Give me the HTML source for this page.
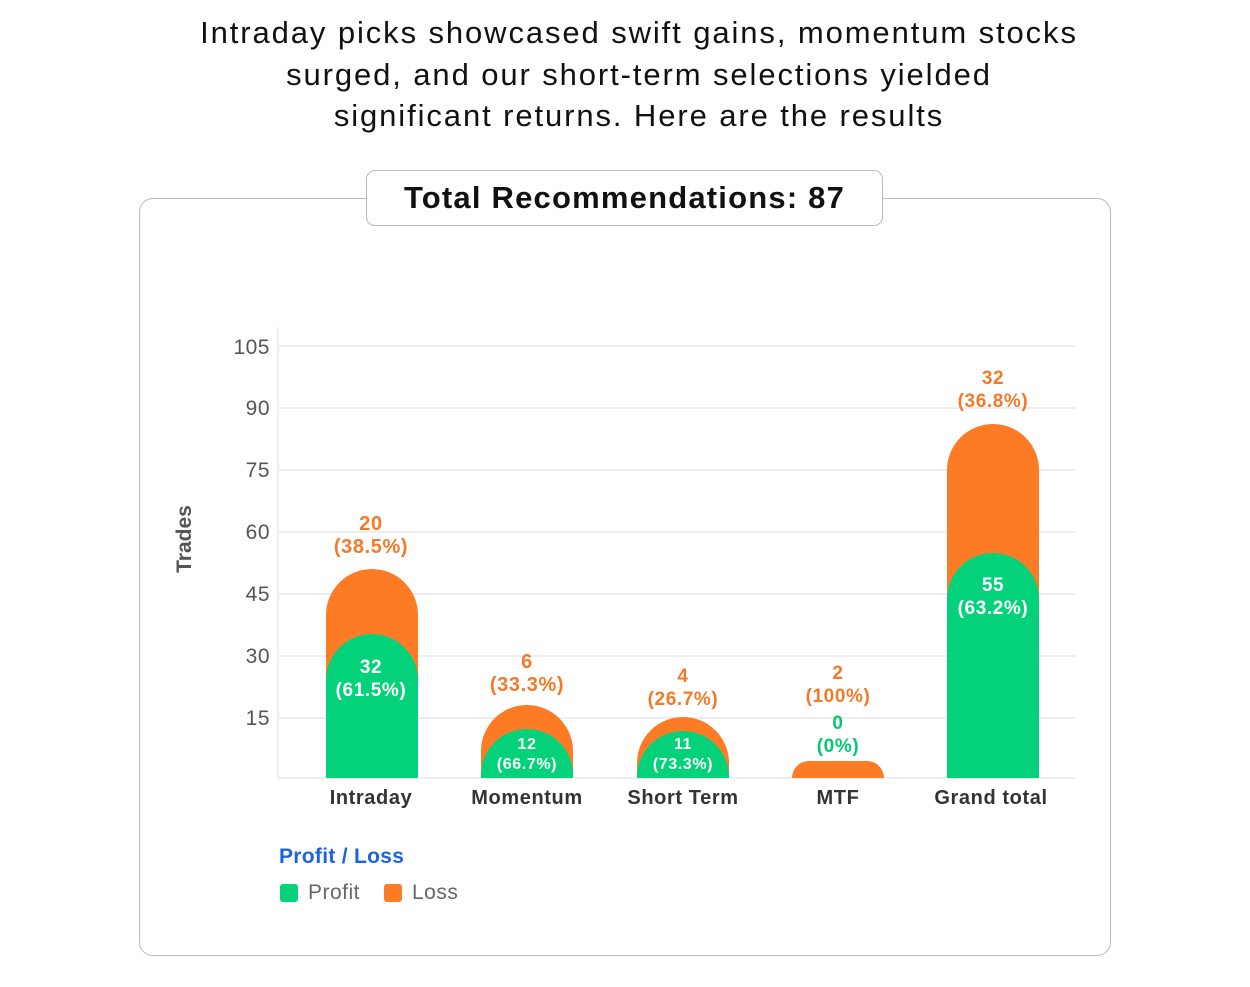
<!DOCTYPE html>
<html><head><meta charset="utf-8"><style>
body{margin:0;width:1250px;height:987px;background:#fff;font-family:"Liberation Sans",sans-serif;position:relative;overflow:hidden}
.a{position:absolute}
.t{left:14px;width:1250px;text-align:center;font-size:31px;line-height:41.5px;color:#111;top:12px;letter-spacing:1.9px}
.frame{left:139px;top:198px;width:970px;height:756px;border:1.5px solid #bbb;border-radius:14px}
.title{left:366px;top:170px;width:515px;height:54px;border:1.5px solid #bbb;border-radius:9px;background:#fff;text-align:center;font-weight:bold;font-size:31px;line-height:54px;color:#111;letter-spacing:1.2px}
.g{left:278px;width:798px;height:2px;background:#eee}
.yl{width:60px;left:210px;text-align:right;font-size:21px;color:#555;letter-spacing:0.5px}
.bar{width:92px;border-radius:46px 46px 0 0}
.o{background:#fd7b25}.gr{background:#04d27a}
.lbl{width:140px;text-align:center;font-weight:bold;font-size:20px;line-height:23px;letter-spacing:0.6px}
.w{color:#fff;font-size:18px;line-height:21px}
.oc{color:#f47a28}.gc{color:#04c872}
.xl{width:160px;text-align:center;font-weight:bold;font-size:20px;color:#333;top:787px;letter-spacing:0.6px}
</style></head><body>
<div class="a t">Intraday picks showcased swift gains, momentum stocks<br>surged, and our short-term selections yielded<br>significant returns. Here are the results</div>
<div class="a frame"></div>
<div class="a title">Total Recommendations: 87</div>
<div class="a g" style="top:345px"></div><div class="a g" style="top:407px"></div><div class="a g" style="top:469px"></div><div class="a g" style="top:531px"></div><div class="a g" style="top:593px"></div><div class="a g" style="top:655px"></div><div class="a g" style="top:717px"></div><div class="a g" style="top:777px"></div>
<div class="a" style="left:277px;top:327px;width:2px;height:452px;background:#eee"></div>
<div class="a yl" style="top:336px">105</div><div class="a yl" style="top:397px">90</div><div class="a yl" style="top:459px">75</div><div class="a yl" style="top:521px">60</div><div class="a yl" style="top:583px">45</div><div class="a yl" style="top:645px">30</div><div class="a yl" style="top:707px">15</div>
<div class="a" style="left:135px;top:527px;width:100px;text-align:center;transform:rotate(-90deg);font-weight:bold;font-size:21px;color:#555">Trades</div>
<div class="a bar o" style="left:326px;top:569px;height:209px"></div>
<div class="a bar gr" style="left:326px;top:634px;height:144px"></div>
<div class="a bar o" style="left:481px;top:705px;height:73px"></div>
<div class="a bar gr" style="left:481px;top:729px;height:49px"></div>
<div class="a bar o" style="left:637px;top:717px;height:61px"></div>
<div class="a bar gr" style="left:637px;top:731px;height:47px"></div>
<div class="a bar o" style="left:792px;top:761px;height:17px"></div>
<div class="a bar o" style="left:947px;top:424px;height:354px"></div>
<div class="a bar gr" style="left:947px;top:553px;height:225px"></div>
<div class="a lbl oc" style="left:301px;top:513px">20<br>(38.5%)</div>
<div class="a lbl w" style="left:301px;top:656px;font-size:19px;line-height:23px">32<br>(61.5%)</div>
<div class="a lbl oc" style="left:457px;top:651px">6<br>(33.3%)</div>
<div class="a lbl w" style="left:457px;top:735px;font-size:16px;line-height:20px">12<br>(66.7%)</div>
<div class="a lbl oc" style="left:613px;top:665px;font-size:19px;line-height:23px">4<br>(26.7%)</div>
<div class="a lbl w" style="left:613px;top:735px;font-size:16px;line-height:20px">11<br>(73.3%)</div>
<div class="a lbl oc" style="left:768px;top:662px;font-size:19px;line-height:23px">2<br>(100%)</div>
<div class="a lbl gc" style="left:768px;top:712px;font-size:19px;line-height:23px">0<br>(0%)</div>
<div class="a lbl oc" style="left:923px;top:367px;font-size:19px;line-height:23px">32<br>(36.8%)</div>
<div class="a lbl w" style="left:923px;top:574px;font-size:19px;line-height:23px">55<br>(63.2%)</div>
<div class="a xl" style="left:291px">Intraday</div><div class="a xl" style="left:447px">Momentum</div><div class="a xl" style="left:603px">Short Term</div><div class="a xl" style="left:758px">MTF</div><div class="a xl" style="left:911px">Grand total</div>
<div class="a" style="left:279px;top:845px;font-weight:bold;font-size:21px;color:#1d63e0;letter-spacing:0.3px">Profit / Loss</div>
<div class="a" style="left:280px;top:884px;width:18px;height:18px;border-radius:3px;background:#04d27a"></div>
<div class="a" style="left:308px;top:881px;font-size:21px;color:#666;letter-spacing:0.5px">Profit</div>
<div class="a" style="left:384px;top:884px;width:18px;height:18px;border-radius:3px;background:#fd7b25"></div>
<div class="a" style="left:412px;top:881px;font-size:21px;color:#666;letter-spacing:0.5px">Loss</div>
</body></html>
